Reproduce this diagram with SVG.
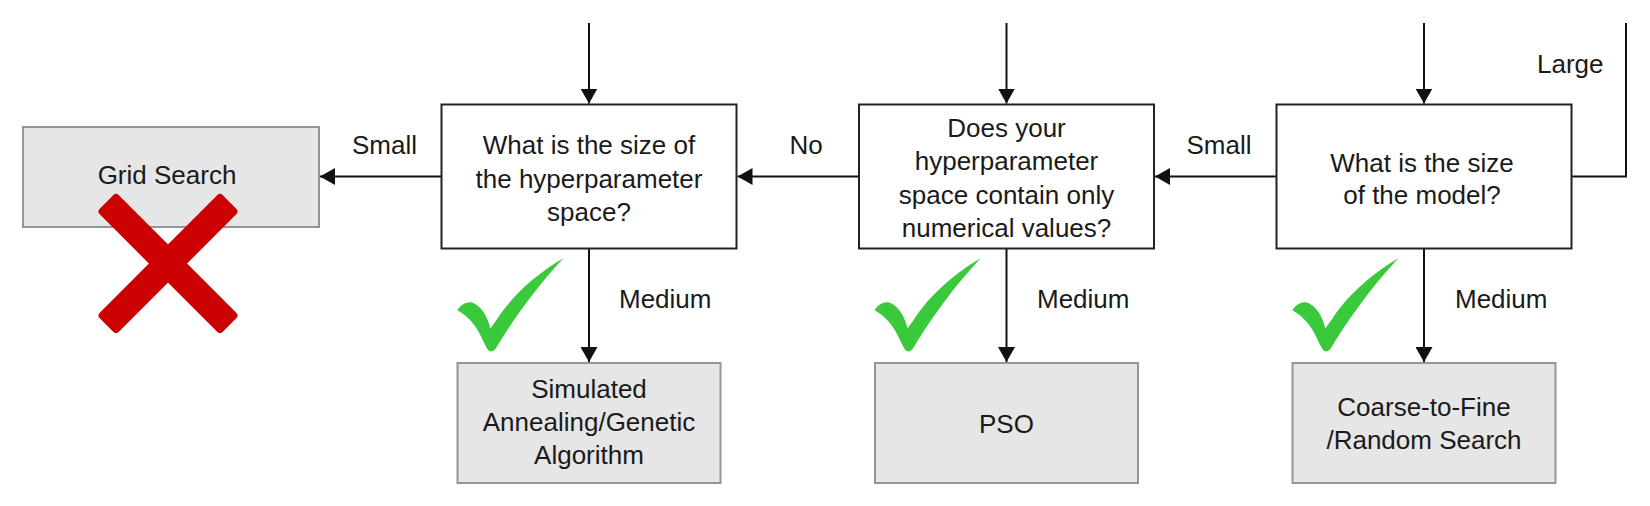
<svg xmlns="http://www.w3.org/2000/svg" xmlns:xlink="http://www.w3.org/1999/xlink" width="1650" height="506" viewBox="0 0 1650 506">
<style>
  text { font-family: "Liberation Sans", Arial, sans-serif; font-size: 26px; fill: #1a1a1a; }
  .c { text-anchor: middle; }
  .q { fill: #ffffff; stroke: #222222; stroke-width: 2; }
  .r { fill: #e6e6e6; stroke: #959595; stroke-width: 2; }
  .ln { fill: none; stroke: #111111; stroke-width: 2; }
  .ok { fill: #3ac93a; }
  .no { fill: #cc0000; }
</style>
<defs>
  <marker id="ah" viewBox="0 0 15 17" refX="15" refY="8.5" markerWidth="15" markerHeight="17" orient="auto" markerUnits="userSpaceOnUse">
    <path d="M0,0 L15,8.5 L0,17 Z" fill="#111111"/>
  </marker>
  <path id="check" d="M106,0 C80,15 54,38 39,62 L33,70 C30,58 24,47 14,44 C8,43 3,47 0,52 C8,56 16,64 21,73 C25,80 28,88 31,92 C33,94 36,93 38,91 C54,64 78,30 106,0 Z"/>
</defs>
<rect width="1650" height="506" fill="#ffffff"/>

<g id="connectors">
  <path class="ln" d="M589,23 V103.5" marker-end="url(#ah)"/>
  <path class="ln" d="M1006.5,23 V103.5" marker-end="url(#ah)"/>
  <path class="ln" d="M1424,23 V103.5" marker-end="url(#ah)"/>
  <path class="ln" d="M1276.5,176.5 H1155" marker-end="url(#ah)"/>
  <path class="ln" d="M859,176.5 H737.5" marker-end="url(#ah)"/>
  <path class="ln" d="M441.5,176.5 H320" marker-end="url(#ah)"/>
  <path class="ln" d="M589,248.5 V362" marker-end="url(#ah)"/>
  <path class="ln" d="M1006.5,248.5 V362" marker-end="url(#ah)"/>
  <path class="ln" d="M1424,248.5 V362" marker-end="url(#ah)"/>
  <path class="ln" d="M1571.5,176.5 H1626 V23"/>
  <text x="384.5" y="154" class="c">Small</text>
  <text x="806" y="154" class="c">No</text>
  <text x="1219" y="154" class="c">Small</text>
  <text x="1537" y="73">Large</text>
  <text x="619" y="308">Medium</text>
  <text x="1037" y="308">Medium</text>
  <text x="1455" y="308">Medium</text>
</g>

<g id="grid-search">
  <rect class="r" x="23" y="127" width="296" height="100"/>
  <text x="167" y="184" class="c">Grid Search</text>
</g>

<g id="q-hyperparameter-size">
  <rect class="q" x="441.5" y="104.5" width="295" height="144"/>
  <text x="589" y="154" class="c">What is the size of</text>
  <text x="589" y="187.5" class="c">the hyperparameter</text>
  <text x="589" y="221" class="c">space?</text>
</g>

<g id="q-numerical">
  <rect class="q" x="859" y="104.5" width="295" height="144"/>
  <text x="1006.5" y="136.5" class="c">Does your</text>
  <text x="1006.5" y="170" class="c">hyperparameter</text>
  <text x="1006.5" y="203.5" class="c">space contain only</text>
  <text x="1006.5" y="237" class="c">numerical values?</text>
</g>

<g id="q-model-size">
  <rect class="q" x="1276.5" y="104.5" width="295" height="144"/>
  <text x="1422" y="171.5" class="c">What is the size</text>
  <text x="1422" y="204" class="c">of the model?</text>
</g>

<g id="simulated-annealing">
  <rect class="r" x="457.5" y="363" width="263" height="120"/>
  <text x="589" y="397.5" class="c">Simulated</text>
  <text x="589" y="430.5" class="c">Annealing/Genetic</text>
  <text x="589" y="463.5" class="c">Algorithm</text>
</g>

<g id="pso">
  <rect class="r" x="875" y="363" width="263" height="120"/>
  <text x="1006.5" y="433" class="c">PSO</text>
</g>

<g id="coarse-to-fine">
  <rect class="r" x="1292.5" y="363" width="263" height="120"/>
  <text x="1424" y="415.5" class="c">Coarse-to-Fine</text>
  <text x="1424" y="448.5" class="c">/Random Search</text>
</g>

<g id="cross">
  <rect class="no" x="81" y="250" width="174" height="27" rx="4" transform="rotate(45 168 263.5)"/>
  <rect class="no" x="81" y="250" width="174" height="27" rx="4" transform="rotate(-45 168 263.5)"/>
</g>

<g id="checks">
  <use xlink:href="#check" class="ok" transform="translate(457.3 258.3)"/>
  <use xlink:href="#check" class="ok" transform="translate(874.5 258.3)"/>
  <use xlink:href="#check" class="ok" transform="translate(1292.3 258.3)"/>
</g>
</svg>
